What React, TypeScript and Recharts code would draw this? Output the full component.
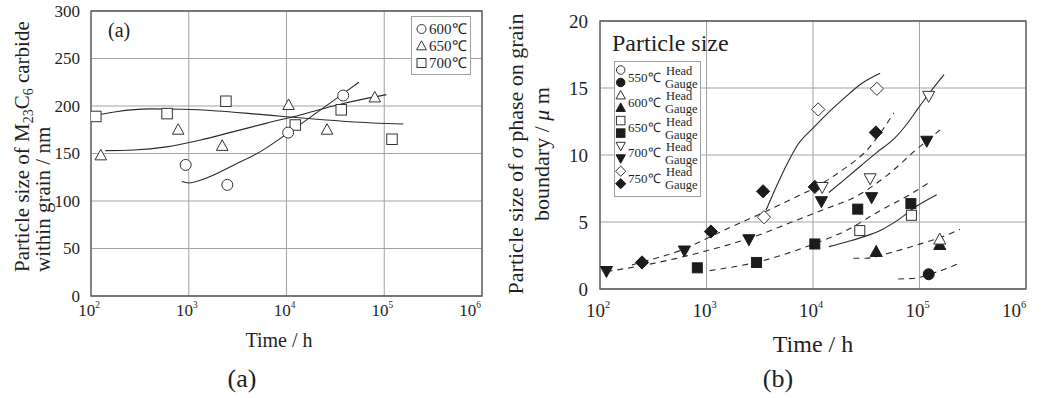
import React from "react";
import {
  ComposedChart,
  Line,
  Scatter,
  XAxis,
  YAxis,
  CartesianGrid,
  ReferenceArea,
  Legend,
} from "recharts";

type Pt = { t: number; v: number };
type Kind = "circle" | "triangle" | "square" | "triangleDown" | "diamond";

const SERIF = "'Liberation Serif', 'Times New Roman', serif";
const INK = "#1f1f1f";
const GRID = "#a3a3a3";
const FRAME = "#5a5a5a";

// ---------- panel (a): M23C6 carbide within grain ----------
const A_600: Pt[] = [
  { t: 930, v: 138 },
  { t: 2480, v: 117 },
  { t: 10400, v: 172 },
  { t: 38000, v: 211 },
];
const A_650: Pt[] = [
  { t: 126, v: 148 },
  { t: 780, v: 175 },
  { t: 2200, v: 158 },
  { t: 10500, v: 201 },
  { t: 26000, v: 175 },
  { t: 80000, v: 209 },
];
const A_700: Pt[] = [
  { t: 112, v: 189 },
  { t: 600, v: 192 },
  { t: 2400, v: 205 },
  { t: 12300, v: 180 },
  { t: 36300, v: 196 },
  { t: 120000, v: 165 },
];
const A_FIT_600: Pt[] = [
  { t: 850, v: 120.5 },
  { t: 1000, v: 119 },
  { t: 1500, v: 124 },
  { t: 2900, v: 138 },
  { t: 5400, v: 152 },
  { t: 10200, v: 171 },
  { t: 20400, v: 193 },
  { t: 38000, v: 213 },
  { t: 55000, v: 225 },
];
const A_FIT_650: Pt[] = [
  { t: 140, v: 153 },
  { t: 270, v: 153.7 },
  { t: 590, v: 157 },
  { t: 1290, v: 164 },
  { t: 2880, v: 173 },
  { t: 6300, v: 182 },
  { t: 13800, v: 190.5 },
  { t: 30000, v: 200 },
  { t: 66000, v: 208 },
  { t: 105000, v: 212 },
];
const A_FIT_700: Pt[] = [
  { t: 100, v: 189 },
  { t: 180, v: 194 },
  { t: 400, v: 197 },
  { t: 870, v: 196.5 },
  { t: 1950, v: 194.7 },
  { t: 4270, v: 192 },
  { t: 9300, v: 189 },
  { t: 20400, v: 186 },
  { t: 44700, v: 183.5 },
  { t: 157000, v: 181 },
];
const A_Y_TICKS = [0, 50, 100, 150, 200, 250, 300];
const A_LEGEND = ["600℃", "650℃", "700℃"];
const A_LEGEND_KINDS: Kind[] = ["circle", "triangle", "square"];

// ---------- panel (b): sigma phase on grain boundary ----------
const B_550_GAUGE: Pt[] = [{ t: 122000, v: 1.1 }];
const B_600_HEAD: Pt[] = [{ t: 155000, v: 3.7 }];
const B_600_GAUGE: Pt[] = [
  { t: 39200, v: 2.78 },
  { t: 155000, v: 3.3 },
];
const B_650_HEAD: Pt[] = [
  { t: 27500, v: 4.36 },
  { t: 84000, v: 5.5 },
];
const B_650_GAUGE: Pt[] = [
  { t: 820, v: 1.58 },
  { t: 2950, v: 1.98 },
  { t: 10400, v: 3.36 },
  { t: 26300, v: 5.96 },
  { t: 83000, v: 6.37 },
];
const B_700_HEAD: Pt[] = [
  { t: 12200, v: 7.6 },
  { t: 34400, v: 8.25 },
  { t: 122000, v: 14.4 },
];
const B_700_GAUGE: Pt[] = [
  { t: 115, v: 1.33 },
  { t: 620, v: 2.86 },
  { t: 2500, v: 3.7 },
  { t: 12000, v: 6.54 },
  { t: 35500, v: 6.84 },
  { t: 117000, v: 11.05 },
];
const B_750_HEAD: Pt[] = [
  { t: 3470, v: 5.36 },
  { t: 11200, v: 13.4 },
  { t: 39800, v: 14.94 },
];
const B_750_GAUGE: Pt[] = [
  { t: 248, v: 1.98 },
  { t: 1100, v: 4.29 },
  { t: 3400, v: 7.29 },
  { t: 10400, v: 7.62 },
  { t: 38900, v: 11.68 },
];

// solid = head fits, dashed = gauge fits
const B_FIT_750_HEAD: Pt[] = [
  { t: 3630, v: 5.9 },
  { t: 5370, v: 8.9 },
  { t: 7240, v: 10.8 },
  { t: 10000, v: 12.0 },
  { t: 14100, v: 13.2 },
  { t: 20000, v: 14.3 },
  { t: 28200, v: 15.3 },
  { t: 42700, v: 16.1 },
];
const B_FIT_700_HEAD: Pt[] = [
  { t: 14100, v: 7.2 },
  { t: 20000, v: 8.2 },
  { t: 28200, v: 9.2 },
  { t: 39800, v: 10.2 },
  { t: 57500, v: 11.2 },
  { t: 79400, v: 12.5 },
  { t: 95500, v: 13.4 },
  { t: 126000, v: 14.7 },
  { t: 170000, v: 16.0 },
];
const B_FIT_650_HEAD: Pt[] = [
  { t: 14100, v: 3.16 },
  { t: 20900, v: 3.53 },
  { t: 30200, v: 3.91 },
  { t: 43700, v: 4.41 },
  { t: 63100, v: 5.16 },
  { t: 93300, v: 6.17 },
  { t: 145000, v: 7.04 },
];
const B_FIT_750_GAUGE: Pt[] = [
  { t: 200, v: 1.8 },
  { t: 245, v: 2.0 },
  { t: 600, v: 2.95 },
  { t: 1120, v: 3.95 },
  { t: 2090, v: 4.95 },
  { t: 3390, v: 5.69 },
  { t: 6170, v: 6.68 },
  { t: 11000, v: 7.67 },
  { t: 18200, v: 8.79 },
  { t: 32400, v: 10.4 },
  { t: 57500, v: 13.15 },
];
const B_FIT_700_GAUGE: Pt[] = [
  { t: 115, v: 1.3 },
  { t: 250, v: 1.75 },
  { t: 500, v: 2.25 },
  { t: 1000, v: 2.85 },
  { t: 2570, v: 3.8 },
  { t: 6170, v: 4.96 },
  { t: 12600, v: 5.93 },
  { t: 25700, v: 6.93 },
  { t: 50000, v: 8.5 },
  { t: 93300, v: 10.4 },
  { t: 158000, v: 11.9 },
];
const B_FIT_650_GAUGE: Pt[] = [
  { t: 1070, v: 1.37 },
  { t: 2950, v: 2.0 },
  { t: 10500, v: 3.4 },
  { t: 20900, v: 4.4 },
  { t: 43700, v: 5.9 },
  { t: 79400, v: 7.0 },
  { t: 126000, v: 8.0 },
];
const B_FIT_600_GAUGE: Pt[] = [
  { t: 24000, v: 2.3 },
  { t: 31600, v: 2.3 },
  { t: 50000, v: 2.65 },
  { t: 100000, v: 3.35 },
  { t: 158000, v: 3.85 },
  { t: 240000, v: 4.45 },
];
const B_FIT_550_GAUGE: Pt[] = [
  { t: 63100, v: 0.75 },
  { t: 91200, v: 0.8 },
  { t: 123000, v: 1.1 },
  { t: 170000, v: 1.45 },
  { t: 240000, v: 1.95 },
];
const B_Y_TICKS = [0, 5, 10, 15, 20];
const B_LEGEND = ["550℃", "600℃", "650℃", "700℃", "750℃"];
const B_LEGEND_KINDS: Kind[] = ["circle", "triangle", "square", "triangleDown", "diamond"];

const X_TICKS = [100, 1000, 10000, 100000, 1000000];

function Mk({ cx, cy, kind, filled, s }: { cx: number; cy: number; kind: Kind; filled: boolean; s: number }) {
  if (cx == null || cy == null) return null;
  const fill = filled ? "#1c1c1c" : "#fff";
  const stroke = filled ? "#1c1c1c" : "#333";
  const h = s / 2;
  const common = { fill, stroke, strokeWidth: 1 };
  switch (kind) {
    case "circle":
      return <circle cx={cx} cy={cy} r={h} {...common} />;
    case "square":
      return <rect x={cx - h} y={cy - h} width={s} height={s} {...common} />;
    case "triangle":
      return (
        <polygon
          points={`${cx},${cy - h * 1.15} ${cx - h * 1.1},${cy + h * 0.85} ${cx + h * 1.1},${cy + h * 0.85}`}
          {...common}
        />
      );
    case "triangleDown":
      return (
        <polygon
          points={`${cx},${cy + h * 1.15} ${cx - h * 1.1},${cy - h * 0.85} ${cx + h * 1.1},${cy - h * 0.85}`}
          {...common}
        />
      );
    default:
      return (
        <polygon
          points={`${cx},${cy - h * 1.2} ${cx + h * 1.2},${cy} ${cx},${cy + h * 1.2} ${cx - h * 1.2},${cy}`}
          {...common}
        />
      );
  }
}

const shapeOf = (kind: Kind, filled: boolean, s: number) => (p: any) =>
  <Mk cx={p.cx} cy={p.cy} kind={kind} filled={filled} s={s} />;

const makeXTick = (fs: number, dyOff: number) => (p: any) => {
  const exp = Math.round(Math.log10(p.payload.value));
  return (
    <text x={p.x - 2} y={p.y + dyOff} textAnchor="middle" fontFamily={SERIF} fontSize={fs} fill={INK}>
      10
      <tspan dy={-fs * 0.45} fontSize={fs * 0.55}>
        {exp}
      </tspan>
    </text>
  );
};

const makeYTick = (fs: number, dx: number) => (p: any) => (
  <text x={p.x - dx} y={p.y} dy="0.35em" textAnchor="end" fontFamily={SERIF} fontSize={fs} fill={INK}>
    {p.payload.value}
  </text>
);

function LegendA() {
  return (
    <svg width={60} height={59} style={{ display: "block" }}>
      <rect x={0.5} y={0.5} width={59} height={58} fill="#fff" stroke="#a0a0a0" />
      {A_LEGEND.map((label, i) => (
        <g key={label}>
          <Mk cx={10.5} cy={13 + i * 17} kind={A_LEGEND_KINDS[i]} filled={false} s={9} />
          <text x={18} y={13 + i * 17} dy="0.35em" fontFamily={SERIF} fontSize={15} fill={INK}>
            {label}
          </text>
        </g>
      ))}
    </svg>
  );
}

function LegendB() {
  return (
    <svg width={88} height={136} style={{ display: "block" }}>
      <rect x={0.5} y={0.5} width={86} height={135} fill="#fff" stroke="#a0a0a0" />
      {B_LEGEND.map((label, i) => {
        const y0 = i * 25.3;
        return (
          <g key={label}>
            <Mk cx={6.7} cy={9 + y0} kind={B_LEGEND_KINDS[i]} filled={false} s={8.5} />
            <Mk cx={6.7} cy={21.5 + y0} kind={B_LEGEND_KINDS[i]} filled={true} s={8.5} />
            <text x={14} y={16} dy="0.35em" transform={`translate(0,${y0})`} fontFamily={SERIF} fontSize={13} fill={INK}>
              {label}
            </text>
            <text x={52} y={y0 + 9.8} dy="0.35em" fontFamily={SERIF} fontSize={12.5} fill={INK}>
              Head
            </text>
            <text x={51} y={y0 + 22.6} dy="0.35em" fontFamily={SERIF} fontSize={12.5} fill={INK}>
              Gauge
            </text>
          </g>
        );
      })}
    </svg>
  );
}

function fit(data: Pt[], dashed: boolean, key: string) {
  return (
    <Line
      key={key}
      data={data}
      dataKey="v"
      type="monotone"
      stroke="#2a2a2a"
      strokeWidth={1.1}
      strokeDasharray={dashed ? "6 5" : undefined}
      dot={false}
      activeDot={false}
      legendType="none"
      isAnimationActive={false}
    />
  );
}

function dots(data: Pt[], kind: Kind, filled: boolean, key: string, s = 11) {
  return (
    <Scatter
      key={key}
      data={data}
      dataKey="v"
      shape={shapeOf(kind, filled, s)}
      legendType="none"
      isAnimationActive={false}
    />
  );
}

function PanelA() {
  return (
    <ComposedChart width={500} height={398} margin={{ top: 11, right: 18, bottom: 0, left: 0 }}>
      <CartesianGrid stroke={GRID} strokeWidth={1} />
      <XAxis
        type="number"
        dataKey="t"
        scale="log"
        domain={[100, 1000000]}
        ticks={X_TICKS}
        allowDataOverflow
        axisLine={false}
        tickLine={false}
        height={102}
        tick={makeXTick(17, 12)}
      />
      <YAxis
        type="number"
        dataKey="v"
        domain={[0, 300]}
        ticks={A_Y_TICKS}
        allowDataOverflow
        axisLine={false}
        tickLine={false}
        width={91}
        tick={makeYTick(17, 3)}
      />
      <ReferenceArea x1={100} x2={1000000} y1={0} y2={300} fill="none" stroke={FRAME} strokeWidth={1.3} />
      {fit(A_FIT_600, false, "f600")}
      {fit(A_FIT_650, false, "f650")}
      {fit(A_FIT_700, false, "f700")}
      {dots(A_700, "square", false, "s700", 10.5)}
      {dots(A_650, "triangle", false, "s650", 10.5)}
      {dots(A_600, "circle", false, "s600", 11)}
      <Legend
        layout="vertical"
        align="center"
        verticalAlign="middle"
        wrapperStyle={{ left: 411, top: 16, width: 60, height: 59 }}
        content={() => <LegendA />}
      />
    </ComposedChart>
  );
}

function PanelB() {
  return (
    <ComposedChart width={544} height={398} margin={{ top: 21, right: 18, bottom: 0, left: 0 }}>
      <CartesianGrid stroke={GRID} strokeWidth={1} />
      <XAxis
        type="number"
        dataKey="t"
        scale="log"
        domain={[100, 1000000]}
        ticks={X_TICKS}
        allowDataOverflow
        axisLine={false}
        tickLine={false}
        height={109}
        tick={makeXTick(19, 20)}
      />
      <YAxis
        type="number"
        dataKey="v"
        domain={[0, 20]}
        ticks={B_Y_TICKS}
        allowDataOverflow
        axisLine={false}
        tickLine={false}
        width={100}
        tick={makeYTick(19, 4)}
      />
      <ReferenceArea x1={100} x2={1000000} y1={0} y2={20} fill="none" stroke={FRAME} strokeWidth={1.3} />
      {fit(B_FIT_750_HEAD, false, "h750")}
      {fit(B_FIT_700_HEAD, false, "h700")}
      {fit(B_FIT_650_HEAD, false, "h650")}
      {fit(B_FIT_750_GAUGE, true, "g750")}
      {fit(B_FIT_700_GAUGE, true, "g700")}
      {fit(B_FIT_650_GAUGE, true, "g650")}
      {fit(B_FIT_600_GAUGE, true, "g600")}
      {fit(B_FIT_550_GAUGE, true, "g550")}
      {dots(B_550_GAUGE, "circle", true, "d550g")}
      {dots(B_600_GAUGE, "triangle", true, "d600g")}
      {dots(B_650_GAUGE, "square", true, "d650g", 10)}
      {dots(B_700_GAUGE, "triangleDown", true, "d700g")}
      {dots(B_750_GAUGE, "diamond", true, "d750g")}
      {dots(B_600_HEAD, "triangle", false, "d600h")}
      {dots(B_650_HEAD, "square", false, "d650h", 10)}
      {dots(B_700_HEAD, "triangleDown", false, "d700h")}
      {dots(B_750_HEAD, "diamond", false, "d750h")}
      <Legend
        layout="vertical"
        align="center"
        verticalAlign="middle"
        wrapperStyle={{ left: 114, top: 61, width: 88, height: 136 }}
        content={() => <LegendB />}
      />
    </ComposedChart>
  );
}

export default function App() {
  const txt = { fontFamily: SERIF, fill: INK } as const;
  return (
    <div style={{ position: "absolute", left: 0, top: 0, width: 1044, height: 398, background: "#fff" }}>
      <div style={{ position: "absolute", left: 0, top: 0 }}>
        <PanelA />
      </div>
      <div style={{ position: "absolute", left: 500, top: 0 }}>
        <PanelB />
      </div>
      <svg
        width={1044}
        height={398}
        style={{ position: "absolute", left: 0, top: 0, pointerEvents: "none" }}
      >
        {/* panel (a) texts */}
        <text x={108} y={37} fontSize={20} {...txt}>
          (a)
        </text>
        <text transform="translate(29,272) rotate(-90)" fontSize={21} {...txt}>
          Particle size of M
          <tspan fontSize={14} dy={4}>
            23
          </tspan>
          <tspan dy={-4}>C</tspan>
          <tspan fontSize={14} dy={4}>
            6
          </tspan>
          <tspan dy={-4}> carbide</tspan>
        </text>
        <text transform="translate(50,272) rotate(-90)" fontSize={21} {...txt}>
          within grain / nm
        </text>
        <text x={279} y={347} textAnchor="middle" fontSize={20} {...txt}>
          Time / h
        </text>
        <text x={242} y={387} textAnchor="middle" fontSize={26} {...txt}>
          (a)
        </text>

        {/* panel (b) texts */}
        <text x={612} y={51} fontSize={24} {...txt}>
          Particle size
        </text>
        <text transform="translate(523,154) rotate(-90)" textAnchor="middle" fontSize={22} {...txt}>
          Particle size of <tspan fontStyle="italic">σ</tspan> phase on grain
        </text>
        <text transform="translate(549,154) rotate(-90)" textAnchor="middle" fontSize={22} {...txt}>
          boundary / <tspan fontStyle="italic">μ</tspan> m
        </text>
        <text x={813} y={352} textAnchor="middle" fontSize={24} {...txt}>
          Time / h
        </text>
        <text x={778} y={387} textAnchor="middle" fontSize={26} {...txt}>
          (b)
        </text>
      </svg>
    </div>
  );
}
